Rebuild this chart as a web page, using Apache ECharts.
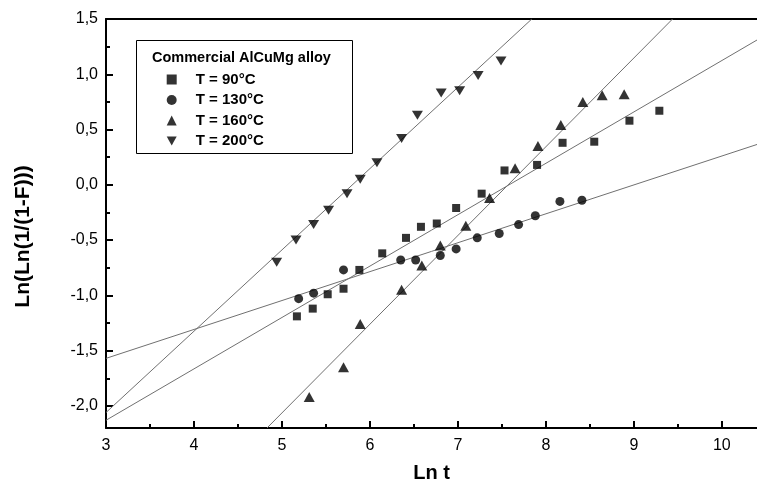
<!DOCTYPE html>
<html>
<head>
<meta charset="utf-8">
<script src="https://cdn.jsdelivr.net/npm/echarts@6/dist/echarts.min.js"></script>
<style>
html,body{margin:0;padding:0;background:#fff;}
#c{width:757px;height:490px;}
</style>
</head>
<body>
<div id="c"></div>
<script>
// ---- data ----
const seriesNames = ['T = 90°C', 'T = 130°C', 'T = 160°C', 'T = 200°C'];
const d90 = [[5.17,-1.19],[5.35,-1.12],[5.52,-0.99],[5.70,-0.94],[5.88,-0.77],[6.14,-0.62],[6.41,-0.48],[6.58,-0.38],[6.76,-0.35],[6.98,-0.21],[7.27,-0.08],[7.53,0.13],[7.90,0.18],[8.19,0.38],[8.55,0.39],[8.95,0.58],[9.29,0.67]];
const d130 = [[5.19,-1.03],[5.36,-0.98],[5.70,-0.77],[6.35,-0.68],[6.52,-0.68],[6.80,-0.64],[6.98,-0.58],[7.22,-0.48],[7.47,-0.44],[7.69,-0.36],[7.88,-0.28],[8.16,-0.15],[8.41,-0.14]];
const d160 = [[5.31,-1.92],[5.70,-1.65],[5.89,-1.26],[6.36,-0.95],[6.59,-0.73],[6.80,-0.55],[7.09,-0.37],[7.36,-0.12],[7.65,0.15],[7.91,0.35],[8.17,0.54],[8.42,0.75],[8.64,0.81],[8.89,0.82]];
const d200 = [[4.94,-0.70],[5.16,-0.50],[5.36,-0.36],[5.53,-0.23],[5.74,-0.08],[5.89,0.05],[6.08,0.20],[6.36,0.42],[6.54,0.63],[6.81,0.83],[7.02,0.85],[7.23,0.99],[7.49,1.12]];
// fitted lines (end points)
const fit90 = [[3,-2.13],[10.4,1.31]];
const fit130 = [[3,-1.57],[10.4,0.365]];
const fit160 = [[4.83,-2.2],[9.44,1.5]];
const fit200 = [[3,-2.06],[7.84,1.5]];
// ticks
const xTicks = [3,4,5,6,7,8,9,10];
const xMinorTicks = [3.5,4.5,5.5,6.5,7.5,8.5,9.5];
const yTicks = [-2,-1.5,-1,-0.5,0,0.5,1,1.5];
const yMinorTicks = [-1.75,-1.25,-0.75,-0.25,0.25,0.75,1.25];
const legendTitle = 'Commercial AlCuMg alloy';
const xName = 'Ln t';
const yName = 'Ln(Ln(1/(1-F)))';

const FONT = 'Liberation Sans, Arial, sans-serif';
const chart = echarts.init(document.getElementById('c'), null, {renderer: 'canvas'});
const invTri = 'path://M0,0L10,0L5,9Z';

function scatter(name, data, symbol, size) {
  return {
    type: 'scatter', name: name, data: data, symbol: symbol, symbolSize: size,
    symbolKeepAspect: true,
    itemStyle: {color: '#000'}, z: 3
  };
}
function fitLine(data) {
  return {
    type: 'line', data: data, symbol: 'none', silent: true,
    lineStyle: {color: '#707070', width: 1}, z: 2
  };
}
const baseX = {type: 'value', min: 3, max: 10.4, gridIndex: 0, splitLine: {show: false}};
const baseY = {type: 'value', min: -2.2, max: 1.5, gridIndex: 0, splitLine: {show: false}};

chart.setOption({
  animation: false,
  backgroundColor: '#fff',
  textStyle: {fontFamily: FONT},
  grid: {left: 106, right: 0, top: 19, bottom: 62, containLabel: false},
  title: {
    text: legendTitle, left: 147, top: 45,
    textStyle: {fontFamily: FONT, fontWeight: 'bold', fontSize: 14.5, color: '#000'}
  },
  legend: {
    data: seriesNames, orient: 'vertical', left: 166.7, top: 72, itemWidth: 10, itemHeight: 10,
    itemGap: 5.5, padding: 0, symbolKeepAspect: true,
    textStyle: {fontFamily: FONT, fontWeight: 'bold', fontSize: 15, color: '#000', padding: [0, 0, 0, 14]}
  },
  graphic: [{
    type: 'rect', shape: {x: 136.5, y: 40.5, width: 216, height: 113},
    style: {fill: 'none', stroke: '#000', lineWidth: 1}, z: 10
  }],
  xAxis: [
    Object.assign({}, baseX, {
      position: 'bottom', name: xName, nameLocation: 'middle', nameGap: 35,
      nameTextStyle: {fontFamily: FONT, fontWeight: 'bold', fontSize: 20, color: '#000'},
      axisLine: {onZero: false, lineStyle: {color: '#000', width: 2}},
      axisTick: {inside: true, length: 7, customValues: xTicks, lineStyle: {color: '#000', width: 2}},
      axisLabel: {customValues: xTicks, margin: 10, fontSize: 16, color: '#000', fontFamily: FONT}
    }),
    Object.assign({}, baseX, {
      position: 'bottom', axisLine: {show: false, onZero: false},
      axisTick: {inside: true, length: 4, customValues: xMinorTicks, lineStyle: {color: '#000', width: 2}},
      axisLabel: {show: false}
    }),
    Object.assign({}, baseX, {
      position: 'top', axisLine: {onZero: false, lineStyle: {color: '#000', width: 2}},
      axisTick: {show: false}, axisLabel: {show: false}
    })
  ],
  yAxis: [
    Object.assign({}, baseY, {
      position: 'left', name: yName, nameLocation: 'middle', nameGap: 72,
      nameTextStyle: {fontFamily: FONT, fontWeight: 'bold', fontSize: 21, color: '#000', padding: [0, 26, 0, 0]},
      axisLine: {onZero: false, lineStyle: {color: '#000', width: 2}},
      axisTick: {inside: true, length: 7, customValues: yTicks, lineStyle: {color: '#000', width: 2}},
      axisLabel: {customValues: yTicks, margin: 8, fontSize: 16, color: '#000', fontFamily: FONT,
        formatter: v => Number(v).toFixed(1).replace('.', ',')}
    }),
    Object.assign({}, baseY, {
      position: 'left', axisLine: {show: false, onZero: false},
      axisTick: {inside: true, length: 4, customValues: yMinorTicks, lineStyle: {color: '#000', width: 2}},
      axisLabel: {show: false}
    })
  ],
  series: [
    fitLine(fit90), fitLine(fit130), fitLine(fit160), fitLine(fit200),
    scatter(seriesNames[0], d90, 'rect', 8),
    scatter(seriesNames[1], d130, 'circle', 9),
    scatter(seriesNames[2], d160, 'triangle', [11, 10]),
    scatter(seriesNames[3], d200, invTri, [11, 10])
  ]
});
</script>
</body>
</html>
